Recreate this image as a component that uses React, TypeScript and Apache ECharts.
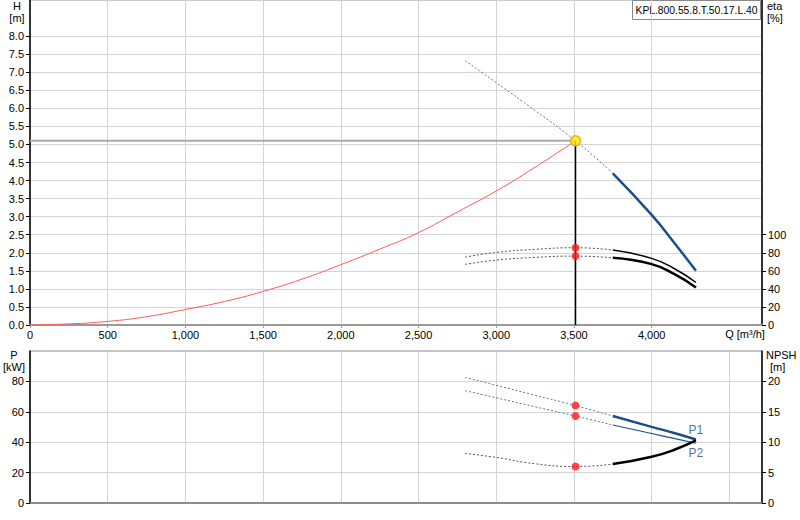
import { useEffect, useRef } from 'react';
import * as echarts from 'echarts';

// system curve (red)
const Q_SYS = [0, 250, 500, 750, 1000, 1250, 1500, 1750, 2000, 2250, 2500, 2750, 3000, 3250, 3510];
const H_SYS = [0, 0.03, 0.1, 0.23, 0.43, 0.65, 0.93, 1.27, 1.67, 2.1, 2.56, 3.13, 3.71, 4.37, 5.1];

// pump curves: dotted part (outside range) and solid part (operating range)
const Q_DOT = [2800, 3000, 3250, 3510, 3750];
const Q_RUN = [3750, 4000, 4150, 4285];

const H_DOT = [7.32, 6.71, 5.94, 5.1, 4.2];
const H_RUN = [4.2, 3.05, 2.25, 1.5];

const ETA1_DOT = [75.2, 80.4, 83.8, 85.6, 83];
const ETA1_RUN = [83, 73.8, 62, 47.1];
const ETA2_DOT = [67.1, 71.9, 74.9, 76.3, 74.4];
const ETA2_RUN = [74.4, 67.4, 56, 41.5];

const P1_DOT = [82.6, 77.4, 70.9, 64.1, 57.2];
const P1_RUN = [57.2, 50.1, 45.9, 41.8];
const P2_DOT = [73.9, 69.2, 63.3, 57.2, 51.3];
const P2_RUN = [51.3, 45.7, 42.3, 39.3];

const NPSH_DOT = [8.15, 7.5, 6.45, 6.0, 6.4];
const NPSH_RUN = [6.4, 7.6, 8.8, 10.3];

// duty point
const Q_DUTY = 3510;
const H_DUTY = 5.1;
const ETA_DUTY = [85.6, 76.3];
const P_DUTY = [64.1, 57.2];
const NPSH_DUTY = 6.0;

// tick labels
const H_TICKS = [0, 0.5, 1, 1.5, 2, 2.5, 3, 3.5, 4, 4.5, 5, 5.5, 6, 6.5, 7, 7.5, 8];
const ETA_TICKS = [0, 20, 40, 60, 80, 100];
const P_TICKS = [0, 20, 40, 60, 80];
const NPSH_TICKS = [0, 5, 10, 15, 20];
const Q_TICKS = [0, 500, 1000, 1500, 2000, 2500, 3000, 3500, 4000];

const FONT = 'Liberation Sans, Arial, sans-serif';
const BLUE = '#1c4f8a';
const BLUE_DOT = '#5a78a6';
const GRID = '#d4d4d4';

const zip = (xs: number[], ys: number[]) => xs.map((x, i) => [x, ys[i]]);

const App = () => {
  const chartRef = useRef<HTMLDivElement>(null);

  useEffect(() => {
    if (!chartRef.current) return;
    const chart = echarts.init(chartRef.current, null, { renderer: 'svg' });

    const dotted = (name: string, data: number[][], color: string, yAxisIndex: number, xAxisIndex: number) => ({
      name, type: 'line', data, xAxisIndex, yAxisIndex, smooth: true, showSymbol: false, silent: true,
      lineStyle: { color, width: 1, type: [2, 2] },
    });
    const solid = (name: string, data: number[][], color: string, width: number, yAxisIndex: number, xAxisIndex: number) => ({
      name, type: 'line', data, xAxisIndex, yAxisIndex, smooth: true, showSymbol: false, silent: true,
      lineStyle: { color, width },
    });
    const red = (data: number[][], yAxisIndex: number, xAxisIndex: number) => ({
      type: 'scatter', data, xAxisIndex, yAxisIndex, symbolSize: 8, z: 5, silent: true,
      itemStyle: { color: '#ff1a1a' },
    });

    const labelStyle = { fontFamily: FONT, fontSize: 11, color: '#000' };
    const nameText = (text: string, x: number, y: number, align = 'center') => ({
      type: 'text', x, y, style: { text, ...labelStyle, align, verticalAlign: 'middle' },
    });

    chart.setOption({
      animation: false,
      backgroundColor: '#fff',
      textStyle: { fontFamily: FONT },
      grid: [
        { left: 30, top: 0, width: 732, height: 325, show: true, borderColor: '#999', borderWidth: 1 },
        { left: 30, top: 351, width: 732, height: 152, show: true, borderColor: '#888', borderWidth: 1 },
      ],
      xAxis: [
        {
          type: 'value', gridIndex: 0, min: 0, max: 4710, interval: 500,
          axisLine: { lineStyle: { color: '#999', width: 2 } },
          axisTick: { length: 3, lineStyle: { color: '#999' }, customValues: Q_TICKS },
          axisLabel: { ...labelStyle, margin: 4, customValues: Q_TICKS, formatter: (v: number) => v.toLocaleString('en-US') },
          splitLine: { lineStyle: { color: GRID } },
        },
        {
          type: 'value', gridIndex: 1, min: 0, max: 4710, interval: 500,
          axisLine: { lineStyle: { color: '#777', width: 1.5 } },
          axisTick: { show: false },
          axisLabel: { show: false },
          splitLine: { lineStyle: { color: GRID } },
        },
      ],
      yAxis: [
        {
          type: 'value', gridIndex: 0, position: 'left', min: 0, max: 9, interval: 0.5,
          axisLine: { show: true, lineStyle: { color: '#000', width: 1.5 } },
          axisTick: { show: true, length: 4, lineStyle: { color: '#000' }, customValues: H_TICKS },
          axisLabel: { ...labelStyle, margin: 6, customValues: H_TICKS, formatter: (v: number) => v.toFixed(1) },
          splitLine: { lineStyle: { color: GRID } },
        },
        {
          type: 'value', gridIndex: 0, position: 'right', min: 0, max: 360, interval: 20,
          axisLine: { show: true, lineStyle: { color: '#000', width: 1.5 } },
          axisTick: { show: true, length: 4, lineStyle: { color: '#000' }, customValues: ETA_TICKS },
          axisLabel: { ...labelStyle, margin: 6, customValues: ETA_TICKS },
          splitLine: { show: false },
        },
        {
          type: 'value', gridIndex: 1, position: 'left', min: 0, max: 100, interval: 20,
          axisLine: { show: true, lineStyle: { color: '#000', width: 1.5 } },
          axisTick: { show: true, length: 4, lineStyle: { color: '#000' }, customValues: P_TICKS },
          axisLabel: { ...labelStyle, margin: 6, customValues: P_TICKS },
          splitLine: { lineStyle: { color: GRID } },
        },
        {
          type: 'value', gridIndex: 1, position: 'right', min: 0, max: 25, interval: 5,
          axisLine: { show: true, lineStyle: { color: '#000', width: 1.5 } },
          axisTick: { show: true, length: 4, lineStyle: { color: '#000' }, customValues: NPSH_TICKS },
          axisLabel: { ...labelStyle, margin: 6, customValues: NPSH_TICKS },
          splitLine: { show: false },
        },
      ],
      graphic: [
        nameText('H', 17, 6),
        nameText('[m]', 17, 18),
        nameText('eta', 767, 6, 'left'),
        nameText('[%]', 767, 18, 'left'),
        nameText('P', 14, 355),
        nameText('[kW]', 14, 367),
        nameText('NPSH', 766, 355, 'left'),
        nameText('[m]', 770, 367, 'left'),
        nameText('Q [m³/h]', 745, 334),
        {
          type: 'group', x: 632.5, y: 0.5, z: 100,
          children: [
            { type: 'rect', shape: { x: 0, y: 0, width: 128, height: 19 }, style: { fill: '#fff', stroke: '#888', lineWidth: 1 } },
            { type: 'text', x: 64, y: 10, style: { text: 'KPL.800.55.8.T.50.17.L.40', ...labelStyle, fontSize: 10.3, align: 'center', verticalAlign: 'middle' } },
          ],
        },
      ],
      series: [
        // top chart
        solid('system', zip(Q_SYS, H_SYS), '#ff5a5a', 1, 0, 0),
        { type: 'line', data: [[0, H_DUTY], [Q_DUTY, H_DUTY]], xAxisIndex: 0, yAxisIndex: 0, showSymbol: false, silent: true, lineStyle: { color: '#aaa', width: 2 } },
        { type: 'line', data: [[Q_DUTY, 0], [Q_DUTY, H_DUTY]], xAxisIndex: 0, yAxisIndex: 0, showSymbol: false, silent: true, lineStyle: { color: '#000', width: 1.5 } },
        dotted('H dot', zip(Q_DOT, H_DOT), BLUE_DOT, 0, 0),
        solid('H', zip(Q_RUN, H_RUN), BLUE, 2.5, 0, 0),
        dotted('eta1 dot', zip(Q_DOT, ETA1_DOT), '#555', 1, 0),
        solid('eta1', zip(Q_RUN, ETA1_RUN), '#000', 1.5, 1, 0),
        dotted('eta2 dot', zip(Q_DOT, ETA2_DOT), '#555', 1, 0),
        solid('eta2', zip(Q_RUN, ETA2_RUN), '#000', 2.5, 1, 0),
        red(ETA_DUTY.map((e) => [Q_DUTY, e]), 1, 0),
        {
          type: 'scatter', data: [[Q_DUTY, H_DUTY]], xAxisIndex: 0, yAxisIndex: 0, symbolSize: 10, z: 6, silent: true,
          itemStyle: { color: '#ffee00', borderColor: '#f39a1e', borderWidth: 1.5 },
        },
        // bottom chart
        dotted('P1 dot', zip(Q_DOT, P1_DOT), BLUE_DOT, 2, 1),
        solid('P1', zip(Q_RUN, P1_RUN), BLUE, 2.5, 2, 1),
        dotted('P2 dot', zip(Q_DOT, P2_DOT), BLUE_DOT, 2, 1),
        solid('P2', zip(Q_RUN, P2_RUN), BLUE, 1.2, 2, 1),
        dotted('NPSH dot', zip(Q_DOT, NPSH_DOT), '#555', 3, 1),
        solid('NPSH', zip(Q_RUN, NPSH_RUN), '#000', 2.5, 3, 1),
        red(P_DUTY.map((p) => [Q_DUTY, p]), 2, 1),
        red([[Q_DUTY, NPSH_DUTY]], 3, 1),
        {
          type: 'scatter', xAxisIndex: 1, yAxisIndex: 2, symbolSize: 2, silent: true,
          itemStyle: { color: 'transparent' },
          data: [
            { value: [Q_RUN[Q_RUN.length - 1], P1_RUN[P1_RUN.length - 1]], label: { show: true, formatter: 'P1', position: 'top', distance: 2 } },
            { value: [Q_RUN[Q_RUN.length - 1], P2_RUN[P2_RUN.length - 1]], label: { show: true, formatter: 'P2', position: 'bottom', distance: 3 } },
          ],
          label: { fontFamily: FONT, fontSize: 12, color: BLUE },
        },
      ],
    });

    return () => chart.dispose();
  }, []);

  return <div ref={chartRef} style={{ position: 'fixed', left: 0, top: 0, width: 800, height: 520, background: '#fff' }} />;
};

export default App;
